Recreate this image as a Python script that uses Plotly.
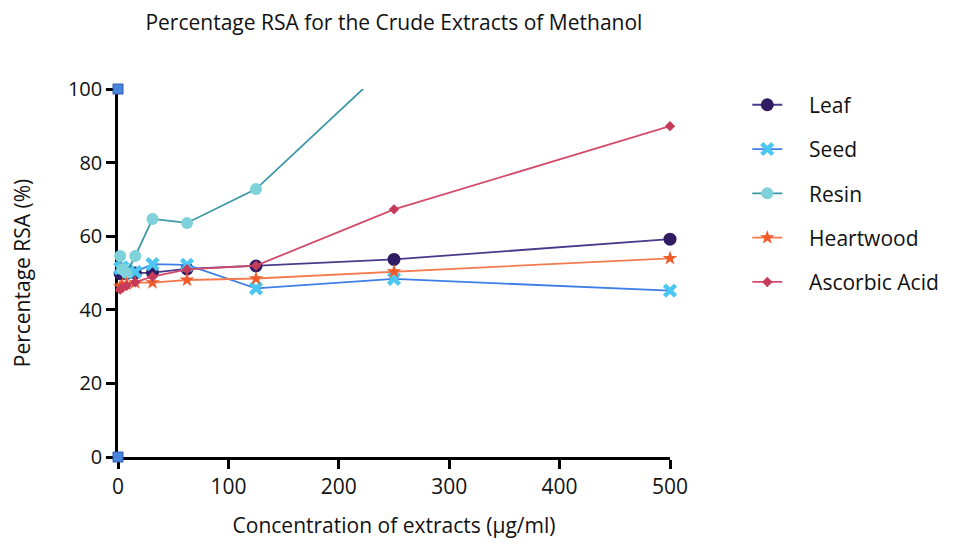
import plotly.graph_objects as go

conc = [1.95, 3.9, 7.8, 15.6, 31.25, 62.5, 125, 250, 500]
leaf = [49.8, 49.9, 49.9, 50.0, 50.1, 51.1, 51.9, 53.7, 59.2]
seed = [51.3, 51.5, 50.8, 50.3, 52.4, 52.2, 45.8, 48.4, 45.2]
resin = [54.6, 51.0, 50.0, 54.6, 64.7, 63.6, 72.8, 107.9, 115.0]
heartwood = [46.3, 46.7, 47.0, 47.4, 47.4, 48.1, 48.5, 50.4, 54.0]
ascorbic = [45.5, 46.0, 46.5, 47.5, 49.0, 51.0, 52.0, 67.3, 89.9]
ref_x = [0, 0]
ref_y = [0, 100]

FONT = "Open Sans"
PAD = "\u00a0" * 4

fig = go.Figure()

series = [
    ("Leaf", leaf, "#4b3a8a", "#2f1c63", "circle", 13),
    ("Seed", seed, "#3d7fe6", "#4cc6f2", "x-thin", 11),
    ("Resin", resin, "#3a97a6", "#7fd1da", "circle", 12),
    ("Heartwood", heartwood, "#f27b50", "#f05a28", "star", 11),
    ("Ascorbic Acid", ascorbic, "#d44a6a", "#c63a5a", "diamond", 8),
]

for name, vals, lc, mc, sym, sz in series:
    marker = dict(symbol=sym, size=sz, color=mc)
    if sym == "x-thin":
        marker["line"] = dict(color=mc, width=4.5)
    fig.add_trace(go.Scatter(
        x=conc, y=vals, name=PAD + name, mode="lines+markers",
        line=dict(color=lc, width=1.8),
        marker=marker, legendgroup=name, cliponaxis=False,
    ))

fig.add_trace(go.Scatter(
    x=ref_x, y=ref_y, mode="markers", showlegend=False,
    marker=dict(symbol="square", size=10, color="#4a86e0",
                line=dict(color="#2a5cb0", width=1)),
    cliponaxis=False,
))

fig.update_layout(
    width=960, height=546,
    paper_bgcolor="white", plot_bgcolor="white",
    margin=dict(l=110, r=298, t=81, b=97),
    font=dict(family=FONT, color="#111111"),
    title=dict(text="Percentage RSA for the Crude Extracts of Methanol",
               x=0.402, xanchor="center", y=0.974, yanchor="middle",
               font=dict(size=21, family=FONT, color="#111111")),
    xaxis=dict(range=[0, 500], tickvals=[0, 100, 200, 300, 400, 500],
               showline=True, linecolor="black", linewidth=2.5,
               ticks="outside", ticklen=9, tickwidth=2.5, tickcolor="black",
               showgrid=False, zeroline=False, layer="below traces",
               tickfont=dict(size=21, family=FONT),
               title=dict(text="Concentration of extracts (μg/ml)",
                          font=dict(size=21, family=FONT), standoff=20)),
    yaxis=dict(range=[0, 100], tickvals=[0, 20, 40, 60, 80, 100],
               showline=True, linecolor="black", linewidth=2.5,
               ticks="outside", ticklen=9, tickwidth=2.5, tickcolor="black",
               showgrid=False, zeroline=False, layer="below traces",
               tickfont=dict(size=20, family=FONT),
               title=dict(text="Percentage RSA (%)",
                          font=dict(size=21, family=FONT), standoff=32)),
    legend=dict(x=1.14, y=1.012, xanchor="left", yanchor="top",
                font=dict(size=21, family=FONT), tracegroupgap=14,
                bgcolor="rgba(0,0,0,0)"),
)

fig.write_html("out.html")
